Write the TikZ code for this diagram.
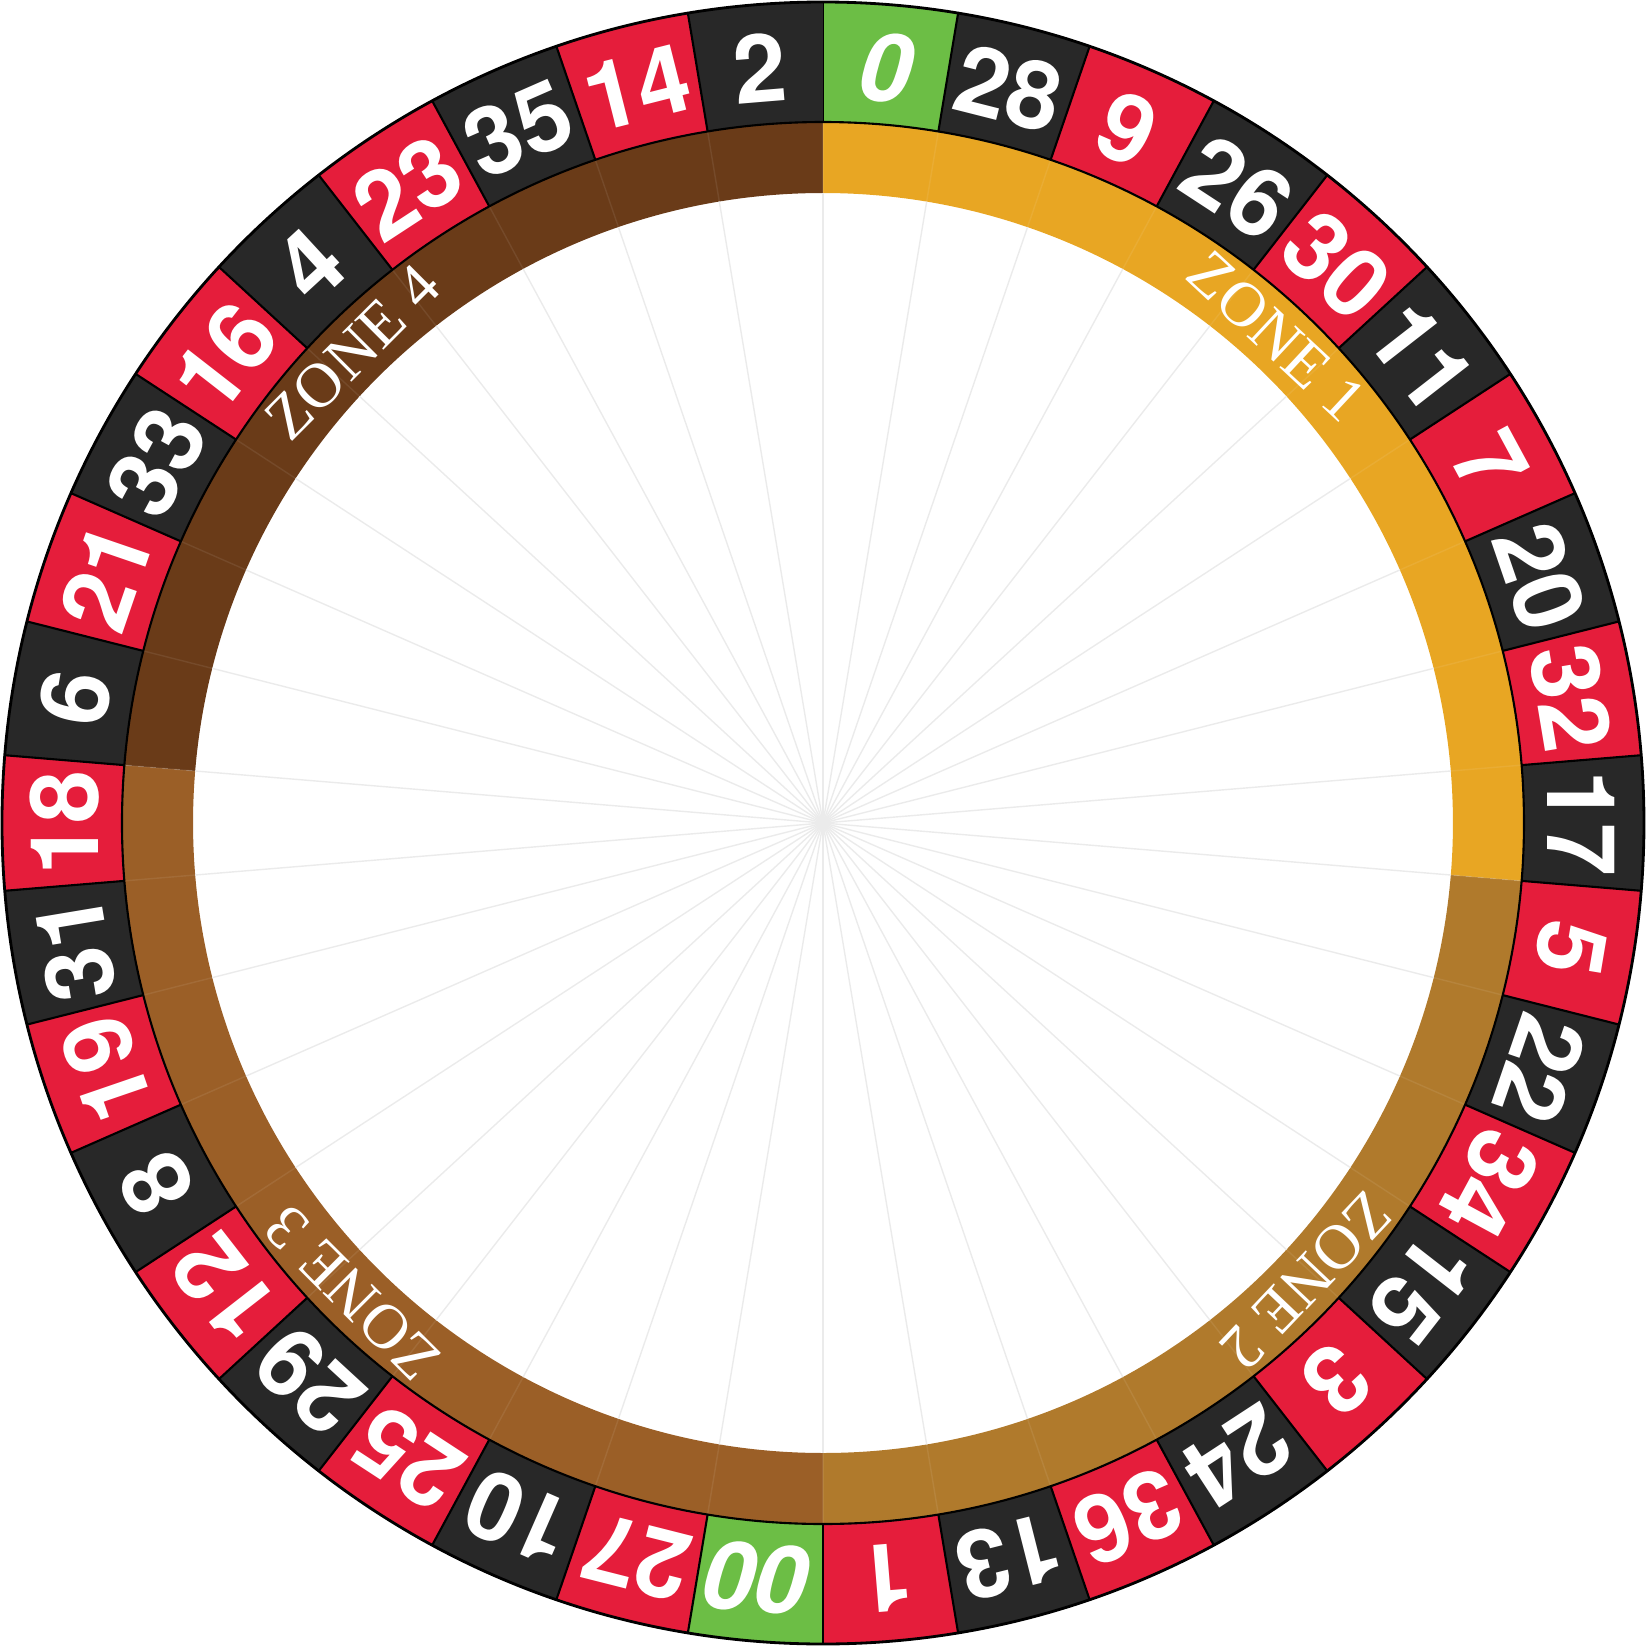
\documentclass[tikz,border=0pt]{standalone}
\usepackage{fontspec}
\usepackage{tikz}
\usetikzlibrary{calc}
\newfontfamily\zonefont{Liberation Serif}
\newfontfamily\pocketfont{TeX Gyre Heros}
\definecolor{Wheel_Red}{HTML}{E51D3B}
\definecolor{Wheel_Black}{HTML}{282828}
\definecolor{Wheel_Green}{HTML}{6CBE45}
\definecolor{Zone_One}{HTML}{E8A623}
\definecolor{Zone_Two}{HTML}{B07A2C}
\definecolor{Zone_Three}{HTML}{9B5F27}
\definecolor{Zone_Four}{HTML}{6A3B18}

\begin{document}
\begin{tikzpicture}[
    pocket/.style={font=\pocketfont\bfseries\fontsize{27}{27}\selectfont, text=white, inner sep=0pt, anchor=center},
    zonelabel/.style={font=\zonefont\fontsize{18}{18}\selectfont, text=white, inner sep=0pt, anchor=center},
    divider/.style={draw=black, line width=0.6pt},
    spoke/.style={draw=black!8, line width=0.4pt}
]
\useasboundingbox (-8.23,-8.27) rectangle (8.27,8.23);
\pgfmathsetmacro\w{360/38}

% Zone ring
\foreach \s/\e/\col in {90/-4.737/Zone_One, -4.737/-90/Zone_Two, -90/-184.737/Zone_Three, 175.263/90/Zone_Four} {
    \fill[\col] (\s:6.30) arc[start angle=\s, end angle=\e, radius=6.30] -- (\e:7.01) arc[start angle=\e, end angle=\s, radius=7.01] -- cycle;
}

% Pockets, clockwise from 0
\foreach \num/\col [count=\i from 0] in {{\itshape 0}/Wheel_Green, 28/Wheel_Black, 9/Wheel_Red, 26/Wheel_Black, 30/Wheel_Red, 11/Wheel_Black, 7/Wheel_Red, 20/Wheel_Black, 32/Wheel_Red, 17/Wheel_Black, 5/Wheel_Red, 22/Wheel_Black, 34/Wheel_Red, 15/Wheel_Black, 3/Wheel_Red, 24/Wheel_Black, 36/Wheel_Red, 13/Wheel_Black, 1/Wheel_Red, {\itshape 00}/Wheel_Green, 27/Wheel_Red, 10/Wheel_Black, 25/Wheel_Red, 29/Wheel_Black, 12/Wheel_Red, 8/Wheel_Black, 19/Wheel_Red, 31/Wheel_Black, 18/Wheel_Red, 6/Wheel_Black, 21/Wheel_Red, 33/Wheel_Black, 16/Wheel_Red, 4/Wheel_Black, 23/Wheel_Red, 35/Wheel_Black, 14/Wheel_Red, 2/Wheel_Black} {
    \pgfmathsetmacro\a{90-\i*\w}
    \pgfmathsetmacro\b{90-(\i+1)*\w}
    \pgfmathsetmacro\m{90-(\i+0.5)*\w}
    \fill[\col] (\a:7.01) arc[start angle=\a, end angle=\b, radius=7.01] -- (\b:8.21) arc[start angle=\b, end angle=\a, radius=8.21] -- cycle;
    \draw[divider] (\a:7.01) -- (\a:8.21);
    \draw[spoke] (0,0) -- (\a:6.30);
    \draw[white, opacity=0.08, line width=0.4pt] (\a:6.30) -- (\a:7.01);
    \node[pocket, rotate=\m-90] (p\i) at (\m:7.58) {\num};
}

\draw[black, line width=0.8pt] (0,0) circle (8.21);
\draw[black, line width=0.6pt] (0,0) circle (7.01);

% Zone labels
\node[zonelabel, rotate=-43] (z1) at (47:6.655) {ZONE 1};
\node[zonelabel, rotate=-133.5] (z2) at (-43.5:6.655) {ZONE 2};
\node[zonelabel, rotate=135] (z3) at (225:6.655) {ZONE 3};
\node[zonelabel, rotate=45] (z4) at (135:6.655) {ZONE 4};
\end{tikzpicture}
\end{document}
